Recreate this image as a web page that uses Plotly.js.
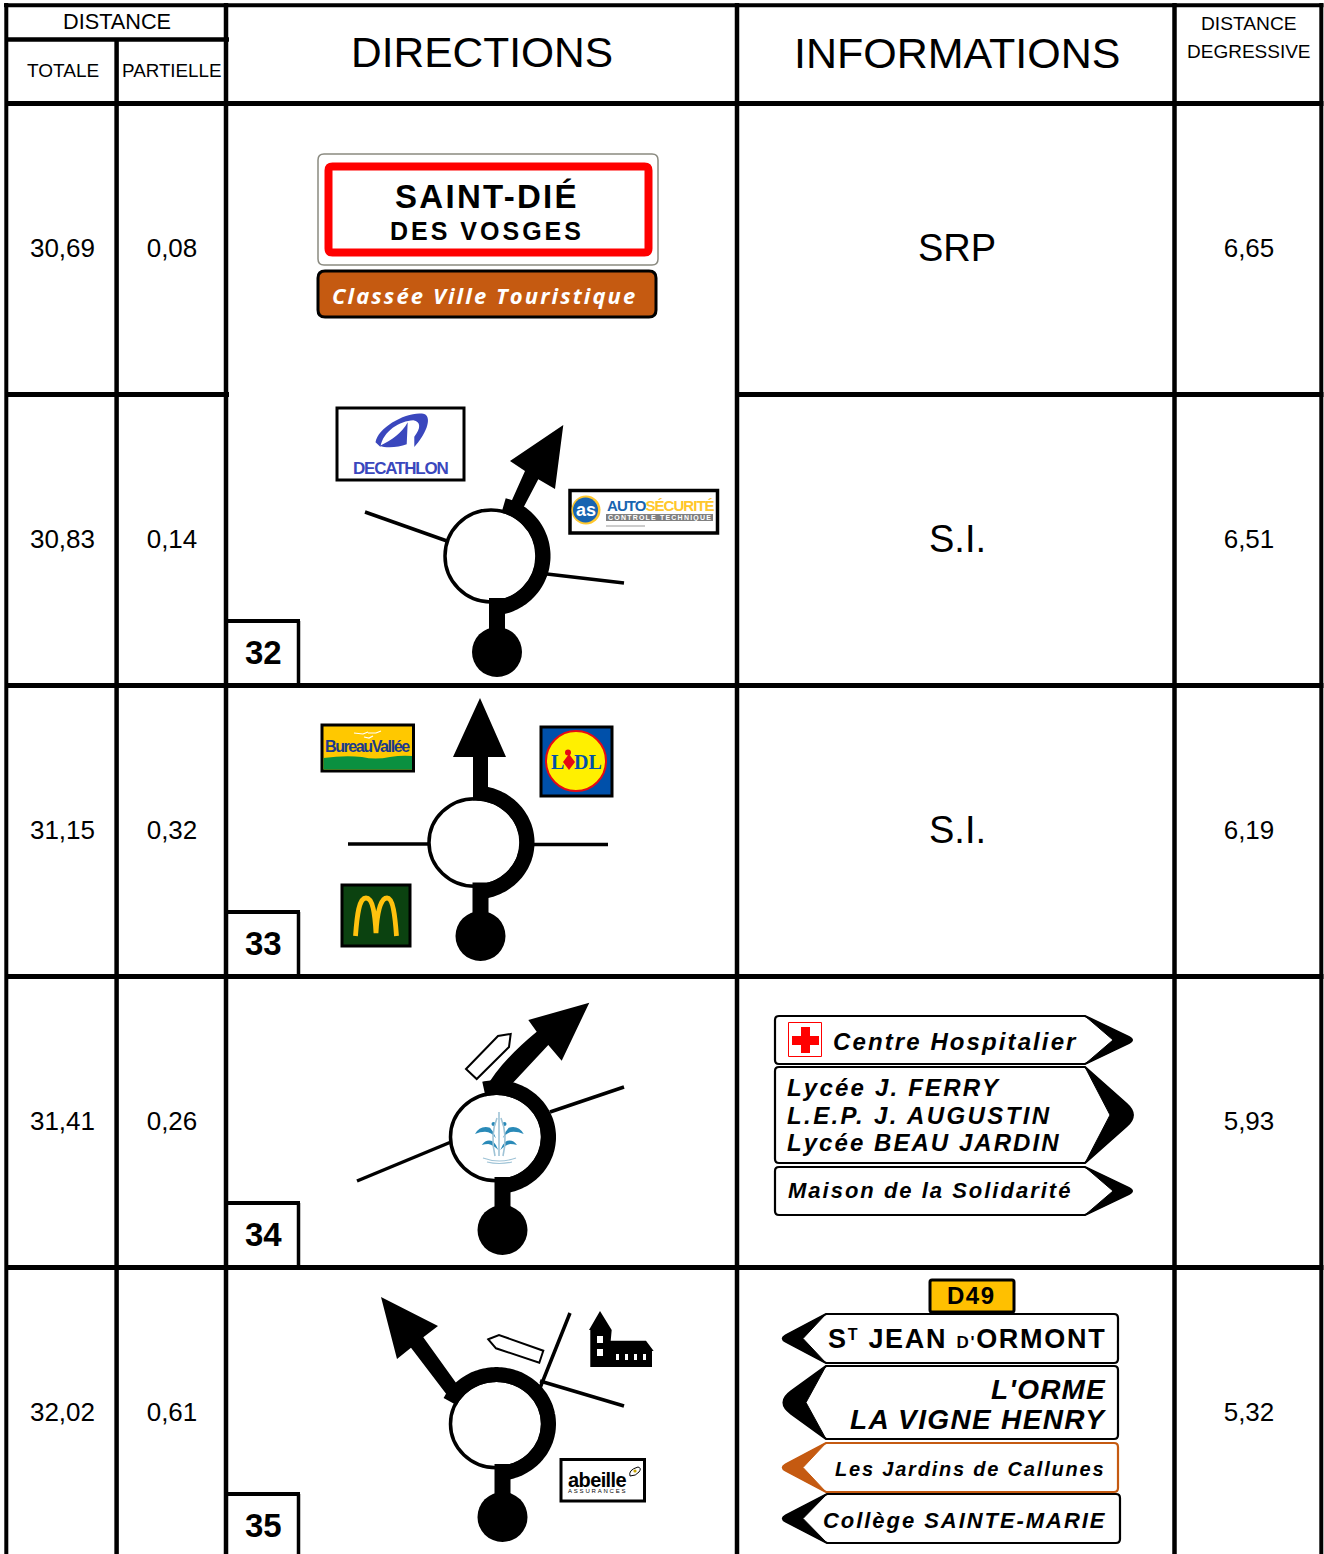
<!DOCTYPE html>
<html><head><meta charset="utf-8">
<script src="https://cdn.plot.ly/plotly-3.0.1.min.js"></script>
<style>html,body{margin:0;padding:0;background:#fff}#g{width:1324px;height:1554px}</style>
</head><body><div id="g"></div>
<script>
// ---- table values ----
const totale = ["30,69","30,83","31,15","31,41","32,02"];
const partielle = ["0,08","0,14","0,32","0,26","0,61"];
const degressive = ["6,65","6,51","6,19","5,93","5,32"];
const informations = ["SRP","S.I.","S.I."];
const roundabouts = ["32","33","34","35"];
const headers = {distance:"DISTANCE",totale:"TOTALE",partielle:"PARTIELLE",directions:"DIRECTIONS",informations:"INFORMATIONS",degr:["DISTANCE","DEGRESSIVE"]};
// ---- table layout ----
const rowCentres = [248,539,830,1121,1412];
const numberRows = [250,541,832,1123,1414];
const rowLines = [103.5,394.5,685.5,976.5,1267.5];
const colTot=62.5, colPar=172, colDir=482, colInf=957, colDeg=1249;

const S=[], A=[];
const FONT="Liberation Sans, Arial, sans-serif";
function t(text,x,y,size,o={}){
  const ls=o.ls;
  const body = ls!==undefined ? `<span style="letter-spacing:${ls}px">${text}</span>` : text;
  A.push({text:body,x,y,xref:'x',yref:'y',showarrow:false,borderpad:0,
    xanchor:o.a||'center',yanchor:'middle',
    font:{family:o.f||FONT,size,color:o.c||'#000',weight:o.b?700:400,style:o.i?'italic':'normal'}});
}
function line(x0,y0,x1,y1,w=4,c='#000'){S.push({type:'line',x0,y0,x1,y1,line:{color:c,width:w}});}
function rect(x0,y0,x1,y1,fill,lc,w=3){S.push({type:'rect',x0,y0,x1,y1,fillcolor:fill,line:{color:lc||fill,width:lc?w:0}});}
function path(d,fill,lc,w=0){S.push({type:'path',path:d,fillcolor:fill||'rgba(0,0,0,0)',line:{color:lc||'rgba(0,0,0,0)',width:w}});}
function circ(cx,cy,r,fill,lc,w=0,ky=1){S.push({type:'circle',x0:cx-r,x1:cx+r,y0:cy-r*ky,y1:cy+r*ky,fillcolor:fill,line:{color:lc||fill,width:w}});}
function rrect(x0,y0,x1,y1,r,fill,lc,w){
  path(`M${x0+r},${y0}L${x1-r},${y0}Q${x1},${y0} ${x1},${y0+r}L${x1},${y1-r}Q${x1},${y1} ${x1-r},${y1}L${x0+r},${y1}Q${x0},${y1} ${x0},${y1-r}L${x0},${y0+r}Q${x0},${y0} ${x0+r},${y0}Z`,fill,lc,w);
}
function arc(cx,cy,r,a0,a1,w,ky=1){
  let d='';
  for(let a=a0;a<=a1;a+=2){const q=a*Math.PI/180;d+=(d?'L':'M')+(cx+r*Math.sin(q)).toFixed(1)+','+(cy-r*ky*Math.cos(q)).toFixed(1);}
  path(d,null,'#000',w);
}
function poly(p,fill='#000',lc,w){path('M'+p.map(q=>q.join(',')).join('L')+'Z',fill,lc,w);}

// ---- grid ----
rowLines.forEach((y,i)=>{
  if(i===1){line(6,y,229,y,5);line(737,y,1323.5,y,5);}
  else line(6,y,1323.5,y,5);
});
line(4,5.3,1323.5,5.3,4);
line(6.3,3,6.3,1554,4); line(116.6,39,116.6,1554,4.5); line(226,3,226,1554,4.5);
line(737,3,737,1554,4.5); line(1174.5,3,1174.5,1554,4.5); line(1321.3,3,1321.3,1554,4);
line(6,39.5,229,39.5,4.5);
// roundabout number boxes
const boxTops=[621,912,1203,1494];
boxTops.forEach((y,i)=>{
  line(226,y,300,y,4); line(298.5,y,298.5,rowLines[i+2]===undefined?1554:rowLines[i+2],3.5);
  t(roundabouts[i],263.5,y+31,33,{b:1});
});

// ---- headers ----
t(headers.distance,117,21,21.7);
t(headers.totale,62.5,70,19);
t(headers.partielle,172,70,18.8);
t(headers.directions,colDir,52.5,42.5);
t(headers.informations,colInf,52.5,43);
t(headers.degr[0],1248.5,23,19.2);
t(headers.degr[1],1249,51,19);
informations.forEach((s,i)=>t(s,colInf,rowCentres[i],38));

// ---- Saint-Dié sign ----
const cityName=["SAINT-DIÉ","DES VOSGES"], cityTag="Classée Ville Touristique";
rrect(318,154,658,265,6,'#fff','#8a8a80',1.5);
rrect(328.5,166.5,648.5,252.5,4,'#fff','#ff0000',8);
t(cityName[0],487,196,33,{b:1,ls:2.3});
t(cityName[1],487,231,25,{b:1,ls:3});
rrect(318,271,656,317,7,'#c55a11','#000',3);
t(cityTag,484,294.5,22,{b:1,i:1,ls:2.1,c:'#fff',f:'Open Sans, Liberation Sans'});

// ---- roundabout helper ----
function ring(cx,cy,a0,a1,dx,dy,ky=0.95){
  circ(cx,cy,46,'#fff','#000',3.5,ky);
  arc(cx,cy,52,a0,a1,15,ky);
  const sx=cx+dx;
  rect(sx-8,cy+42*ky,sx+8,dy,'#000');
  circ(sx,dy,25,'#000');
}
// 32
line(365,512,447,541,3.5); line(547,574,624,583,3.5);
ring(491,556,14,180,6,652,1);
poly([[563.3,425],[510,461],[525,471],[506.7,512],[522.7,509],[538.3,479.3],[555,489]]);
// 33
line(348,844,430,844,3.5); line(530,844.5,608,844.5,3.5);
ring(475,842.5,-2,182,5.5,936);
poly([[480,698],[453,757],[473,757],[473,800],[488,800],[488,757],[506,757]]);
// 34
line(357,1181,451,1142,3.5); line(550,1112,624,1087,3.5);
ring(496.5,1137,-14,180,6,1230);
path('M589.3,1002.7L528.3,1020L536.7,1031.7Q500,1062 485.7,1088.3L510,1086L548.3,1045L561.7,1060.7Z','#000');
poly([[466,1069],[498,1036],[510.7,1034],[509,1047],[476.7,1079]],'#fff','#000',2);
// 35
line(540,1388,570,1313,3.5); line(540,1381,624,1406,3.5);
ring(496.5,1424,-63,180,6,1517);
poly([[381,1297],[438,1326],[423.3,1337.3],[458.3,1386],[453.3,1403.3],[411,1347.7],[397,1359]]);
poly([[488.3,1339.3],[499,1335],[543.3,1350.7],[539.3,1362.7],[496,1348.3]],'#fff','#000',2);

// ---- logos ----
// Decathlon
rect(337,408,464,480,'#fff','#000',3);
path('M375.5,442.3C378.3,426.7 408.3,410.5 424.3,414C433,417.7 425,435.7 414.3,447L414.3,436.7C421,428.3 421,421.7 413.3,420.3C400,421 383,431 380.5,447Z','#3a47bd');
path('M407.7,422.3L406.7,444.3C398.3,447.7 385,448.3 380,445.7C391.7,440 401.7,433.3 407.7,422.3Z','#3a47bd');
t("DECATHLON",401,468,17,{b:1,ls:-1.2,c:'#3a47bd'});
// AutoSécurité
rect(570,490.5,717.5,533,'#fff','#000',3.5);
circ(586,510,14.5,'#ffc72c'); circ(585.5,510,12.5,'#1864b0');
t("as",585.5,509.5,18,{b:1,c:'#fff'});
t('<span style="color:#1864b0">AUTO</span><span style="color:#ffc72c">SÉCURITÉ</span>',606,505,15,{b:1,a:'left',ls:-0.95});
rect(606,514,713,521,'#808080');
t("CONTROLE TECHNIQUE",659.5,517.5,7,{b:1,c:'#fff',ls:1.2});
line(606,526,645,526,1,'#999');
// Bureau Vallée
rect(322,725,413.5,771,'#ffc800','#000',3);
path('M323.5,758Q345,755 362,757Q375,760 390,757Q402,755 412,756L412,769.5L323.5,769.5Z','#0a9040');
path('M354,733L363,734L368,732M368,733L376,733L381,731M364,737L369,738L373,736','rgba(0,0,0,0)','#fff',1.2);
t("BureauVallée",367.5,746,16,{b:1,c:'#1b3a8c',ls:-1.4});
// Lidl
rect(541,727,612,796,'#0050aa','#000',3);
circ(576,761,30,'#fff000','#e60a14',2);
t("L",557,762,20,{b:1,c:'#0050aa',f:'Liberation Serif, serif'});
t("DL",588,762,20,{b:1,c:'#0050aa',f:'Liberation Serif, serif'});
circ(568,752.5,3,'#e60a14');
poly([[569,754],[575,762],[569,770],[563,762]],'#e60a14');
// McDonald's
rect(342,885,410,946,'#0b4210','#000',3);
path('M355.5,936C357,915 359,898 366,898C373,898 375,915 376,933C377,915 380,898 387,898C393,898 395,915 396.5,936','rgba(0,0,0,0)','#ffc20e',4.8);
// Fountain
const fb='#2a8ab8', fl='#9fc3d6';
const fz=(x,y)=>`${(x/3+340).toFixed(1)},${(y/3+990).toFixed(1)}`;
const lobe=(m)=>{const X=x=>m?956-x:x;return [
 `M${fz(X(405),432)}Q${fz(X(420),405)} ${fz(X(450),413)}Q${fz(X(462),425)} ${fz(X(468),445)}Q${fz(X(455),425)} ${fz(X(435),425)}Q${fz(X(420),425)} ${fz(X(405),432)}Z`,
 `M${fz(X(425),465)}Q${fz(X(440),445)} ${fz(X(460),455)}Q${fz(X(470),465)} ${fz(X(475),480)}Q${fz(X(460),465)} ${fz(X(445),462)}Q${fz(X(435),462)} ${fz(X(425),465)}Z`];};
[false,true].forEach(m=>lobe(m).forEach(d=>path(d,fb)));
circ(493.5,1124,2,fb); circ(504.5,1124,2,fb);
path('M495,1156Q490,1135 497,1118M503,1156Q508,1135 501,1118M499,1156L499,1112','rgba(0,0,0,0)',fl,1.6);
path('M483,1158Q499,1164 516,1158M487,1162Q499,1165 512,1162','rgba(0,0,0,0)',fl,1.2);
// Church
path('M589,1330L600,1311L611.7,1330L610.7,1340.7L646,1340.7L653.7,1351L652,1351L652,1367L590.3,1367L590.3,1330Z','#000');
[[597,1336],[597,1349]].forEach(p=>rect(p[0],p[1],p[0]+6,p[1]+7,'#fff'));
[616,625,634,643].forEach(x=>rect(x,1354,x+3,1360,'#fff'));
// Abeille
rect(561,1459.5,644.5,1501,'#fff','#000',3);
t("abeille",597,1480,20,{b:1,ls:-0.6});
t("ASSURANCES",597,1490.5,6,{ls:1.8});
path('M630,1476Q628,1470 638,1467Q642,1468 639,1472Q636,1476 630,1476Z','#fff','#000',1);
circ(635,1471,1.6,'#c9a400');

// ---- direction signs ----
function sign(dir,xb,xn,xt0,xc,y0,y1,c='#000',w=2.2){
  const tall=(y1-y0)>70, xt=xt0+dir*(tall?6:2);
  const m=(y0+y1)/2,r=4*dir,k=tall?11:3,sl=(xt-xn)/((y1-y0)/2)*k;
  const tip=`L${xt-sl},${m-k}Q${xt},${m} ${xt-sl},${m+k}`;
  path(`M${xb+r},${y0}L${xn},${y0}${tip}L${xn},${y1}L${xb+r},${y1}Q${xb},${y1} ${xb},${y1-4}L${xb},${y0+4}Q${xb},${y0} ${xb+r},${y0}Z`,'#fff',c,w);
  path(`M${xn},${y0}${tip}L${xn},${y1}L${xc},${m}Z`,c,c,1);
}
const rightSigns=["Centre Hospitalier","Lycée J. FERRY","L.E.P. J. AUGUSTIN","Lycée BEAU JARDIN","Maison de la Solidarité"];
sign(1,775,1085,1133,1113,1016,1064);
sign(1,775,1085,1133,1110,1067,1163);
sign(1,775,1085,1133,1113,1167,1215);
rect(788.5,1022.5,821.5,1056.5,'#fff','#f00',1);
rect(801,1027,810,1053,'#f00'); rect(792,1036,819,1045,'#f00');
t(rightSigns[0],832,1041,24,{b:1,i:1,a:'left',ls:2.1});
t(rightSigns[1],786,1087,24,{b:1,i:1,a:'left',ls:2.2});
t(rightSigns[2],786,1115,24,{b:1,i:1,a:'left',ls:2.4});
t(rightSigns[3],786,1142,24,{b:1,i:1,a:'left',ls:2.05});
t(rightSigns[4],787,1190.5,22,{b:1,i:1,a:'left',ls:2});

const roadNumber="D49";
rrect(930,1280,1014,1312,2,'#ffc000','#000',3);
t(roadNumber,971.5,1295.5,24,{b:1,ls:1.5});
sign(-1,1118,826,782,803,1314,1363);
sign(-1,1118,826,782,806,1366,1439);
sign(-1,1118,826,782,803,1443,1492,'#c55a11');
sign(-1,1120,827,782,803,1494,1543);
const leftSigns=["L'ORME","LA VIGNE HENRY","Les Jardins de Callunes","Collège SAINTE-MARIE"];
t(`S<span style="font-size:16px;baseline-shift:8px">T</span> JEAN <span style="font-size:17px">D'</span>ORMONT`,827,1339,27,{b:1,a:'left',ls:1.7});
t(leftSigns[0],1107,1389,28,{b:1,i:1,a:'right',ls:1.2});
t(leftSigns[1],1107,1419,28,{b:1,i:1,a:'right',ls:1.35});
t(leftSigns[2],1105.5,1469,20,{b:1,i:1,a:'right',ls:1.8});
t(leftSigns[3],1107,1520,22,{b:1,i:1,a:'right',ls:1.95});

// ---- numeric columns as traces ----
const txt=(x,vals)=>({type:'scatter',mode:'text',x:vals.map(()=>x),y:numberRows.slice(0,vals.length),text:vals,
  textposition:'middle center',textfont:{family:FONT,size:26,color:'#000'},hoverinfo:'skip',showlegend:false});
const data=[txt(colTot,totale),txt(colPar,partielle),txt(colDeg,degressive)];

Plotly.newPlot('g',data,{
  width:1324,height:1554,margin:{l:0,r:0,t:0,b:0},showlegend:false,
  paper_bgcolor:'#fff',plot_bgcolor:'#fff',
  xaxis:{range:[0,1324],visible:false,fixedrange:true},
  yaxis:{range:[1554,0],visible:false,fixedrange:true},
  shapes:S,annotations:A
},{displayModeBar:false,staticPlot:true});
</script></body></html>
